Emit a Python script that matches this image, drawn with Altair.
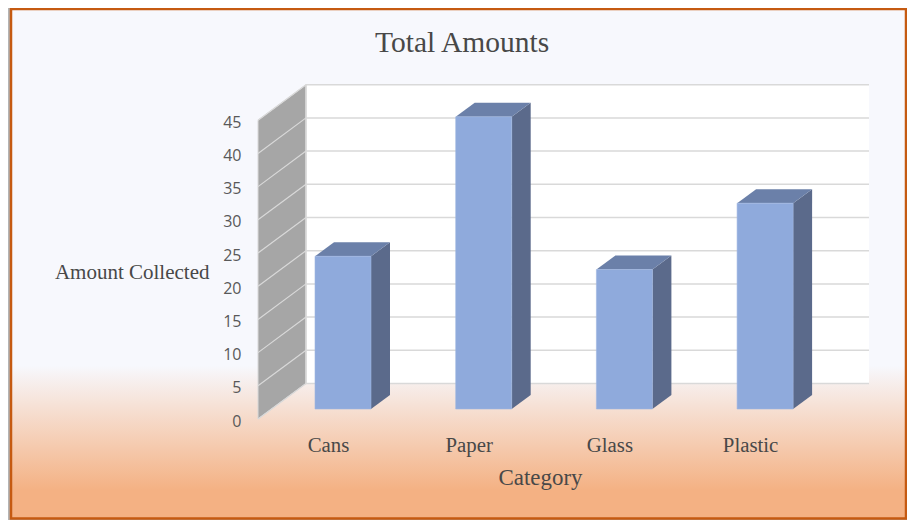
import json
import altair as alt
import pandas as pd

categories = ["Cans", "Paper", "Glass", "Plastic"]
amounts = [23, 44, 21, 31]
y_ticks = [0, 5, 10, 15, 20, 25, 30, 35, 40, 45]

SERIF = "Liberation Serif"
TEXT = "#484848"
GRID = "#d9d9d9"

# 3D projection constants, in axis units
BAR_SHIFT = 0.0995      # bar front-left corner relative to the category label
BAR_W = 0.398
BAR_DX = 0.135
BAR_DY = 2.108
BAR_BASE = 1.506
WALL_L = -0.5046
WALL_R = -0.1635
WALL_DY = 5.35
GRID_END = 3.838

X_SCALE = alt.Scale(domain=[-2.2815, 4.108], nice=False, zero=False)
Y_SCALE = alt.Scale(domain=[-15.21, 61.9], nice=False, zero=False)


def X(f, **kw):
    return alt.X(f, type="quantitative", scale=X_SCALE, **kw)


def Y(f, **kw):
    return alt.Y(f, type="quantitative", scale=Y_SCALE, **kw)


label_expr = "%s[datum.value]" % json.dumps(categories)

# tables
bars = pd.DataFrame({"cat": categories, "i": range(4), "v": amounts})
bars["xl"] = bars.i - BAR_SHIFT
bars["xr"] = bars.xl + BAR_W
bars["base"] = BAR_BASE
bars["top"] = bars.v + BAR_BASE

side = []
top = []
for _, r in bars.iterrows():
    side.append(dict(i=r.i, x=r.xr, y=r.top, y2=r.base))
    side.append(dict(i=r.i, x=r.xr + BAR_DX, y=r.top + BAR_DY, y2=r.base + BAR_DY))
    top.append(dict(i=r.i, y=r.top, x=r.xl, x2=r.xr))
    top.append(dict(i=r.i, y=r.top + BAR_DY, x=r.xl + BAR_DX, x2=r.xr + BAR_DX))
side = pd.DataFrame(side)
top = pd.DataFrame(top)

wall = pd.DataFrame([
    dict(x=WALL_L, y=y_ticks[-1], y2=y_ticks[0]),
    dict(x=WALL_R, y=y_ticks[-1] + WALL_DY, y2=y_ticks[0] + WALL_DY),
])
grid = pd.DataFrame({"y": [t + WALL_DY for t in y_ticks], "x": WALL_R, "x2": GRID_END})
diag = pd.DataFrame(
    [dict(t=t, x=WALL_L, y=t) for t in y_ticks]
    + [dict(t=t, x=WALL_R, y=t + WALL_DY) for t in y_ticks]
)

gradient = alt.Gradient(
    gradient="linear",
    x1=0, x2=0, y1=0, y2=1,
    stops=[
        alt.GradientStop(color="#f7f8fd", offset=0),
        alt.GradientStop(color="#f7f8fd", offset=0.70),
        alt.GradientStop(color="#f4b183", offset=0.945),
        alt.GradientStop(color="#f4b183", offset=1),
    ],
)

shadow = alt.Chart(pd.DataFrame({"a": [0]})).mark_rect(fill="#b4b4b4").encode(
    x=alt.value(0), x2=alt.value(899), y=alt.value(0), y2=alt.value(512)
)
frame = alt.Chart(pd.DataFrame({"a": [0]})).mark_rect(
    fill=gradient, stroke="#c55a11", strokeWidth=2.5
).encode(x=alt.value(3), x2=alt.value(898), y=alt.value(1), y2=alt.value(510.5))

back = alt.Chart(pd.DataFrame({"x": [WALL_R], "x2": [GRID_END], "y": [y_ticks[-1] + WALL_DY], "y2": [y_ticks[0] + WALL_DY]})).mark_rect(
    fill="#ffffff"
).encode(X("x"), x2="x2", y=Y("y"), y2="y2")

left_wall = alt.Chart(wall).mark_area(fill="#a6a6a6", stroke=GRID, strokeWidth=1).encode(
    X("x"), y=Y("y"), y2="y2"
)

gridlines = alt.Chart(grid).mark_rule(color=GRID, strokeWidth=1.5).encode(
    X("x"), x2="x2", y=Y("y")
)
diagonals = alt.Chart(diag).mark_line(color=GRID, strokeWidth=1.2).encode(
    X("x"), y=Y("y"), detail="t:N"
)
wall_edge = alt.Chart(pd.DataFrame({"x": [WALL_R], "y": [y_ticks[0] + WALL_DY], "y2": [y_ticks[-1] + WALL_DY]})).mark_rule(
    color=GRID, strokeWidth=1.5
).encode(X("x"), y=Y("y"), y2="y2")

side_face = alt.Chart(side).mark_area(fill="#5b6a8b").encode(
    X("x"), y=Y("y"), y2="y2", detail="i:N"
)
top_face = alt.Chart(top).mark_area(fill="#6b80a9", orient="horizontal").encode(
    X("x"), x2="x2", y=Y("y"), detail="i:N"
)
front = alt.Chart(bars).mark_rect(fill="#8faadc", stroke="#9db6e0", strokeWidth=0.6).encode(
    x=X(
        "xl",
        axis=alt.Axis(
            values=[0, 1, 2, 3],
            labelExpr=label_expr,
            orient="bottom",
            offset=-85,
            domain=False,
            ticks=False,
            grid=False,
            labelPadding=0,
            labelFont=SERIF,
            labelFontSize=20.8,
            labelColor=TEXT,
            labelBaseline="top",
            labelOffset=-1,
            title="Category",
            titleFont=SERIF,
            titleFontSize=22.9,
            titleFontWeight="normal",
            titleColor=TEXT,
            titleX=532,
            titleY=42,
            titleAlign="center",
            titleBaseline="middle",
            zindex=1,
        ),
    ),
    x2="xr",
    y=Y(
        "top",
        axis=alt.Axis(
            values=y_ticks,
            orient="left",
            offset=-233,
            domain=False,
            ticks=False,
            grid=False,
            labelPadding=0,
            labelFont="Open Sans",
            labelFontSize=16,
            labelColor="#595959",
            labelOffset=2,
            title="Amount Collected",
            titleFont=SERIF,
            titleFontSize=21,
            titleFontWeight="normal",
            titleColor=TEXT,
            titleAngle=0,
            titleX=-32,
            titleY=264,
            titleAlign="right",
            titleBaseline="middle",
            zindex=1,
        ),
    ),
    y2="base",
)

chart = alt.layer(
    shadow, frame, back, left_wall, gridlines, wall_edge, diagonals, side_face, top_face, front
).properties(
    width=899,
    height=512,
    padding=0,
    autosize=alt.AutoSizeParams(type="none"),
    title=alt.TitleParams(
        "Total Amounts",
        font=SERIF,
        fontSize=29.5,
        fontWeight="normal",
        color=TEXT,
        anchor="start",
        frame="group",
        offset=0,
        dx=367,
        dy=74,
        baseline="alphabetic",
        zindex=1,
    ),
).configure_view(stroke=None)

chart.save("out.html", embed_options={"renderer": "svg", "actions": False})
